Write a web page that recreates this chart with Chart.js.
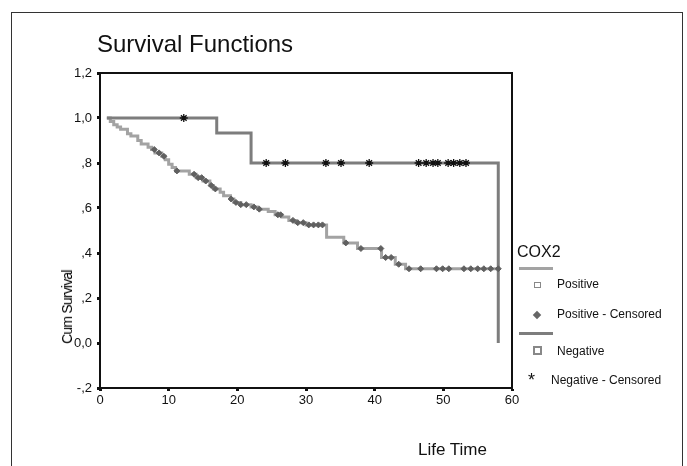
<!DOCTYPE html>
<html>
<head>
<meta charset="utf-8">
<script src="https://cdn.jsdelivr.net/npm/chart.js@4"></script>
<style>
  body { margin: 0; background: #fff; }
  #wrap { position: relative; width: 687px; height: 466px; overflow: hidden; font-family: "Liberation Sans", Arial, sans-serif; }
  #frame { position: absolute; left: 11px; top: 12px; width: 672px; height: 500px; border: 1.5px solid #333; box-sizing: border-box; }
  #myChart { position: absolute; left: 0; top: 0; }
  .txt { position: absolute; color: #111; white-space: nowrap; }
  #title { left: 97px; top: 30px; font-size: 24px; }
  #ylab { left: 67px; top: 307px; font-size: 14px; transform: translate(-50%, -50%) rotate(-90deg); letter-spacing: -0.8px; color: #000; }
  #xlab { left: 418px; top: 440px; font-size: 17px; }
  #legTitle { left: 517px; top: 243px; font-size: 16px; }
  .legLine { position: absolute; left: 519px; width: 34px; height: 3px; }
  .legTxt { font-size: 12px; }
</style>
</head>
<body>
<div id="wrap">
  <div id="frame"></div>
  <canvas id="myChart" width="687" height="466"></canvas>
  <div class="txt" id="title">Survival Functions</div>
  <div class="txt" id="ylab">Cum Survival</div>
  <div class="txt" id="xlab">Life Time</div>
  <div class="txt" id="legTitle">COX2</div>
  <div class="legLine" style="top:267px;background:#a3a3a3"></div>
  <div style="position:absolute;left:534px;top:282px;width:5px;height:4px;border:1px solid #888"></div>
  <div class="txt legTxt" style="left:557px;top:277px">Positive</div>
  <div style="position:absolute;left:534px;top:312px;width:6px;height:6px;background:#666;transform:rotate(45deg)"></div>
  <div class="txt legTxt" style="left:557px;top:307px">Positive - Censored</div>
  <div class="legLine" style="top:332px;background:#7d7d7d"></div>
  <div style="position:absolute;left:533px;top:346px;width:5px;height:5px;border:2px solid #888"></div>
  <div class="txt legTxt" style="left:557px;top:344px">Negative</div>
  <div class="txt" style="left:528px;top:370px;font-size:18px">*</div>
  <div class="txt legTxt" style="left:551px;top:373px">Negative - Censored</div>
</div>
<script>
// valores (Kaplan-Meier, tiempo en meses)
const posTimes = [1, 1.5, 2, 2.5, 3, 4, 4.5, 5.5, 6, 7, 7.5, 8, 9, 9.5, 10, 10.5, 11, 13, 14, 15, 16, 16.5, 17.5, 18, 19, 19.5, 20.5, 22, 23, 24.5, 25.5, 26.5, 27.5, 28.5, 30, 33, 35.5, 37.5, 41, 43, 44.5, 58];
const posSurv = [1.0, 0.985, 0.97, 0.96, 0.95, 0.93, 0.92, 0.9, 0.885, 0.87, 0.86, 0.845, 0.83, 0.815, 0.795, 0.78, 0.765, 0.75, 0.735, 0.72, 0.7, 0.685, 0.67, 0.655, 0.64, 0.625, 0.615, 0.605, 0.595, 0.585, 0.57, 0.56, 0.545, 0.535, 0.525, 0.47, 0.445, 0.42, 0.38, 0.35, 0.33, 0.33];

const posCensTimes = [7.9, 8.6, 9.3, 11.2, 13.7, 14.3, 14.8, 15.4, 16.2, 16.8, 19.1, 19.8, 20.5, 21.3, 22.4, 23.2, 25.9, 26.3, 28.1, 28.8, 29.6, 30.4, 31.1, 31.8, 32.4, 35.8, 38, 40.9, 41.6, 42.4, 43.5, 45, 46.7, 49, 49.9, 50.8, 53, 54, 55, 55.9, 56.9, 58];
const posCensSurv = [0.86, 0.845, 0.83, 0.765, 0.75, 0.735, 0.735, 0.72, 0.7, 0.685, 0.64, 0.625, 0.615, 0.615, 0.605, 0.595, 0.57, 0.57, 0.545, 0.535, 0.535, 0.525, 0.525, 0.525, 0.525, 0.445, 0.42, 0.42, 0.38, 0.38, 0.35, 0.33, 0.33, 0.33, 0.33, 0.33, 0.33, 0.33, 0.33, 0.33, 0.33, 0.33];

const negTimes = [1, 17, 22, 58, 58];
const negSurv = [1.0, 0.933, 0.8, 0.8, 0.0];

const negCensTimes = [12.2, 24.2, 27, 32.9, 35.1, 39.2, 46.4, 47.5, 48.5, 49.2, 50.7, 51.5, 52.4, 53.3];
const negCensSurv = [1.0, 0.8, 0.8, 0.8, 0.8, 0.8, 0.8, 0.8, 0.8, 0.8, 0.8, 0.8, 0.8, 0.8];

const yTickValues = [-0.2, 0, 0.2, 0.4, 0.6, 0.8, 1.0, 1.2];
const yTickLabels = ["-,2", "0,0", ",2", ",4", ",6", ",8", "1,0", "1,2"];
const xTickLabels = ["0", "10", "20", "30", "40", "50", "60"];

const toPoints = (xs, ys) => xs.map((x, i) => ({ x: x, y: ys[i] }));

// marco negro alrededor del area del grafico
const boxPlugin = {
    id: "box",
    afterDraw(chart) {
        const a = chart.chartArea;
        const ctx = chart.ctx;
        ctx.save();
        ctx.strokeStyle = "#111";
        ctx.lineWidth = 2;
        ctx.strokeRect(a.left, a.top, a.right - a.left, a.bottom - a.top);
        ctx.restore();
    }
};

const config = {
    type: "line",
    data: {
        datasets: [
            {
                label: "Positive",
                data: toPoints(posTimes, posSurv),
                borderColor: "#a3a3a3",
                borderWidth: 3,
                stepped: true,
                pointRadius: 0,
                order: 3
            },
            {
                label: "Negative",
                data: toPoints(negTimes, negSurv),
                borderColor: "#7d7d7d",
                borderWidth: 3,
                stepped: true,
                pointRadius: 0,
                order: 2
            },
            {
                label: "Positive - Censored",
                data: toPoints(posCensTimes, posCensSurv),
                showLine: false,
                pointStyle: "rectRot",
                pointRadius: 3,
                backgroundColor: "#606060",
                borderColor: "#606060",
                borderWidth: 1,
                order: 1
            },
            {
                label: "Negative - Censored",
                data: toPoints(negCensTimes, negCensSurv),
                showLine: false,
                pointStyle: "star",
                pointRadius: 4,
                borderColor: "#111",
                borderWidth: 1.3,
                order: 0
            }
        ]
    },
    options: {
        responsive: false,
        animation: false,
        layout: { padding: { left: 0, top: 73, right: 175, bottom: 0 } },
        plugins: {
            legend: { display: false },
            tooltip: { enabled: false }
        },
        scales: {
            x: {
                type: "linear",
                min: 0,
                max: 60,
                afterFit: s => { s.height = 78; },
                ticks: {
                    stepSize: 10,
                    color: "#111",
                    font: { family: "Liberation Sans", size: 13 },
                    padding: 2,
                    callback: (v) => xTickLabels[Math.round(v / 10)]
                },
                grid: { drawOnChartArea: false, drawTicks: true, tickLength: 3, tickWidth: 3, color: "#111" },
                border: { color: "#111", width: 2 }
            },
            y: {
                min: -0.2,
                max: 1.2,
                afterFit: s => { s.width = 100; },
                afterBuildTicks: s => { s.ticks = yTickValues.map(v => ({ value: v })); },
                ticks: {
                    color: "#111",
                    font: { family: "Liberation Sans", size: 13 },
                    padding: 5,
                    callback: (v) => yTickLabels[yTickValues.findIndex(t => Math.abs(t - v) < 1e-6)]
                },
                grid: { drawOnChartArea: false, drawTicks: true, tickLength: 3, tickWidth: 3, color: "#111" },
                border: { color: "#111", width: 2 }
            }
        }
    },
    plugins: [boxPlugin]
};

new Chart(document.getElementById("myChart").getContext("2d"), config);
</script>
</body>
</html>
